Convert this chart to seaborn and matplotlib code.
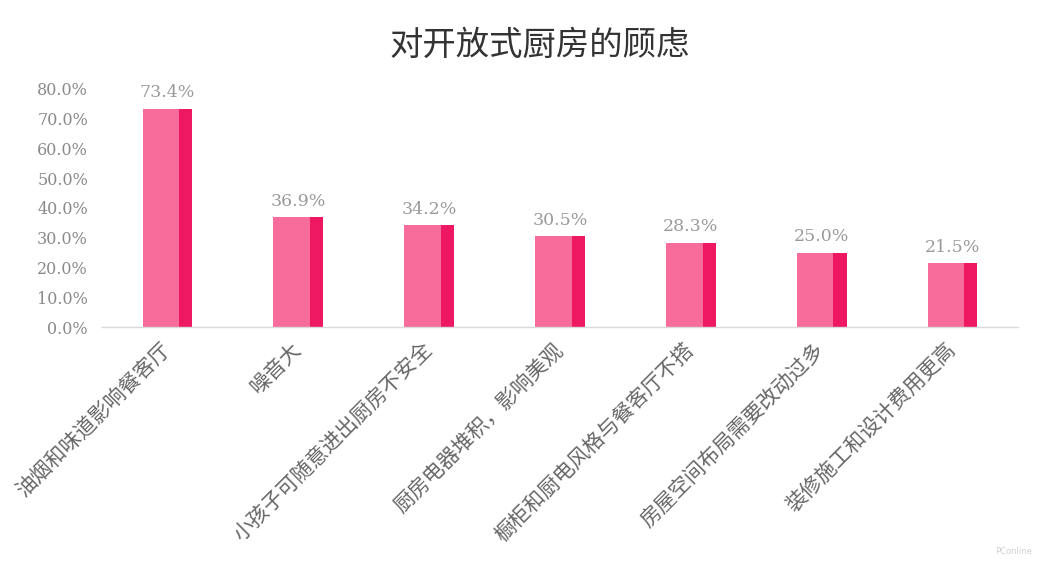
import numpy as np
import pandas as pd
import matplotlib
matplotlib.use('Agg')
import matplotlib.pyplot as plt
import seaborn as sns

# Chart data
categories = ['油烟和味道影响餐客厅', '噪音大', '小孩子可随意进出厨房不安全', '厨房电器堆积，影响美观',
              '橱柜和厨电风格与餐客厅不搭', '房屋空间布局需要改动过多', '装修施工和设计费用更高']
values = [73.4, 36.9, 34.2, 30.5, 28.3, 25.0, 21.5]
y_ticks = [0, 10, 20, 30, 40, 50, 60, 70, 80]
title = '对开放式厨房的顾虑'

light_pink = '#F86C9B'
dark_pink = '#EE1762'
cjk = ['Noto Sans CJK SC', 'DejaVu Sans']
serif = ['DejaVu Serif']

sns.set_style('white')
plt.rcParams['font.family'] = cjk

df = pd.DataFrame({'category': categories, 'value': values})

fig = plt.figure(figsize=(10.48, 5.69), dpi=100)
ax = fig.add_axes([0.0973, 0.4253, 0.874, 0.4183])

bar_w = 0.38
strip_w = 0.10
sns.barplot(data=df, x='category', y='value', color=light_pink, width=bar_w,
            saturation=1, ax=ax, errorbar=None, linewidth=0)

# darker right-hand strip on each bar
xs = np.arange(len(categories))
ax.bar(xs + bar_w / 2 - strip_w / 2, df['value'], width=strip_w, color=dark_pink, linewidth=0)

for x, v in zip(xs, values):
    ax.text(x, v + 2.5, f'{v:.1f}%', ha='center', va='bottom', fontsize=12.5,
            color='#9a9a9a', family=serif)

ax.set_xlim(-0.5, len(categories) - 0.5)
ax.set_ylim(0, 80)
ax.set_yticks(y_ticks)
ax.set_yticklabels([f'{t:.1f}%' for t in y_ticks], family=serif, fontsize=11.5, color='#8a8a8a')
ax.set_xticks(xs)
ax.set_xticklabels(categories, rotation=45, ha='right', va='center', rotation_mode='anchor',
                   fontsize=15, color='#666666')
ax.tick_params(axis='x', length=0, pad=14)
ax.tick_params(axis='y', length=0, pad=10)
ax.set_xlabel('')
ax.set_ylabel('')

for side in ['top', 'right', 'left']:
    ax.spines[side].set_visible(False)
ax.spines['bottom'].set_color('#d9d9d9')
ax.spines['bottom'].set_linewidth(1)

fig.text(0.515, 0.92, title, ha='center', va='center', fontsize=24, color='#333333')
fig.text(0.985, 0.03, 'PConline', ha='right', va='center', fontsize=6, color='#d0d0d0',
         family=['DejaVu Sans'])

fig.savefig('out.png', dpi=100)
